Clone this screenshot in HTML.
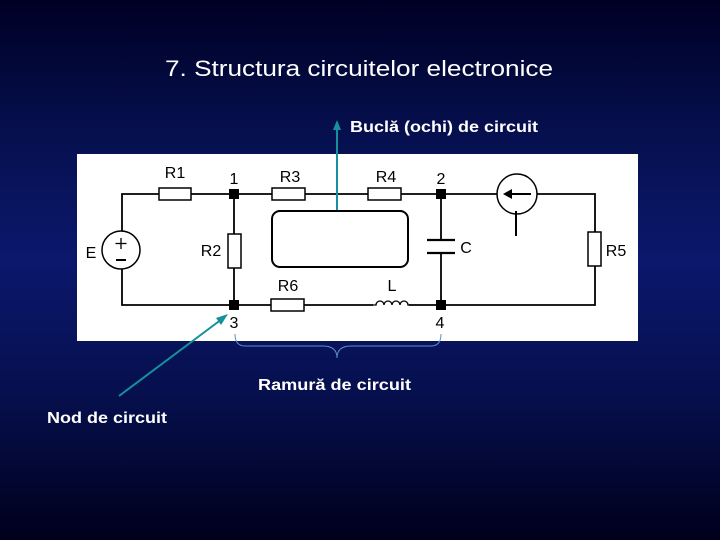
<!DOCTYPE html>
<html><head><style>
html,body{margin:0;padding:0;}
body{width:720px;height:540px;overflow:hidden;background:linear-gradient(180deg,#000024 0%,#06104f 25%,#0b186c 48%,#06104f 72%,#00001c 100%);font-family:"Liberation Sans",sans-serif;}
</style></head><body>
<svg width="720" height="540" viewBox="0 0 720 540" xmlns="http://www.w3.org/2000/svg" style="position:absolute;left:0;top:0">
<text x="165" y="76" fill="#fff" font-size="22" textLength="388" lengthAdjust="spacingAndGlyphs" font-family="Liberation Sans">7. Structura circuitelor electronice</text>
<rect x="77" y="154" width="561" height="187" fill="#fff"/>
<g stroke="#000" stroke-width="1.8" fill="none">
<polyline points="122,231 122,194 595,194 595,305 122,305 122,269"/>
<line x1="234" y1="194" x2="234" y2="305"/>
<line x1="441" y1="194" x2="441" y2="240"/>
<line x1="441" y1="253" x2="441" y2="305"/>
<line x1="427" y1="240" x2="455" y2="240" stroke-width="2.2"/>
<line x1="427" y1="253" x2="455" y2="253" stroke-width="2.2"/>
<rect x="272" y="211" width="136" height="56" rx="8" stroke-width="2"/>
</g>
<g stroke="#000" stroke-width="1.5" fill="#fff">
<rect x="159" y="188" width="32" height="12"/>
<rect x="272" y="188" width="33" height="12"/>
<rect x="368" y="188" width="33" height="12"/>
<rect x="228" y="234" width="13" height="34"/>
<rect x="271" y="299" width="33" height="12"/>
<rect x="588" y="232" width="13" height="34"/>
<circle cx="121" cy="250" r="19"/>
<circle cx="517" cy="194" r="20"/>
<rect x="373" y="299" width="36" height="10" stroke="none"/>
</g>
<g stroke="#000" stroke-width="1.3" fill="none">
<path d="M372,305 h4 a4,4 0 0 1 8,0 a4,4 0 0 1 8,0 a4,4 0 0 1 8,0 a4,4 0 0 1 8,0 h2"/>
<line x1="121" y1="238" x2="121" y2="249"/><line x1="115.5" y1="243.5" x2="126.5" y2="243.5"/>
<line x1="116" y1="260" x2="126" y2="260" stroke-width="2"/>
<line x1="506" y1="194" x2="531" y2="194" stroke-width="2"/>
<line x1="516" y1="211" x2="516" y2="236" stroke-width="2"/>
</g>
<polygon points="503,194 512,189 512,199" fill="#000"/>
<g fill="#000"><rect x="229" y="189" width="10" height="10"/><rect x="436" y="189" width="10" height="10"/><rect x="229" y="300" width="10" height="10"/><rect x="436" y="300" width="10" height="10"/></g>
<g font-family="Liberation Sans" font-size="16" fill="#000">
<text x="175" y="178" text-anchor="middle">R1</text>
<text x="234" y="184" text-anchor="middle">1</text>
<text x="290" y="182" text-anchor="middle">R3</text>
<text x="386" y="182" text-anchor="middle">R4</text>
<text x="441" y="184" text-anchor="middle">2</text>
<text x="91" y="258" text-anchor="middle">E</text>
<text x="211" y="256" text-anchor="middle">R2</text>
<text x="466" y="253" text-anchor="middle">C</text>
<text x="616" y="256" text-anchor="middle">R5</text>
<text x="288" y="291" text-anchor="middle">R6</text>
<text x="392" y="291" text-anchor="middle">L</text>
<text x="234" y="328" text-anchor="middle">3</text>
<text x="440" y="328" text-anchor="middle">4</text>
</g>
<g stroke="#16909c" stroke-width="2" fill="#16909c">
<line x1="337" y1="210" x2="337" y2="128"/>
<polygon points="337,120 333,130 341,130" stroke="none"/>
<line x1="119" y1="396" x2="222" y2="319"/>
<polygon points="228,314 216,318 221,325" stroke="none"/>
</g>
<path d="M235,334 q0,12 10,12 h78 q14,0 14,12 q0,-12 14,-12 h80 q10,0 10,-12" stroke="#5f8fc8" stroke-width="1" fill="none"/>
<g font-family="Liberation Sans" font-weight="bold" font-size="16" fill="#fff" lengthAdjust="spacingAndGlyphs">
<text x="350" y="132" textLength="188" lengthAdjust="spacingAndGlyphs">Buclă (ochi) de circuit</text>
<text x="258" y="390" textLength="153" lengthAdjust="spacingAndGlyphs">Ramură de circuit</text>
<text x="47" y="423" textLength="120" lengthAdjust="spacingAndGlyphs">Nod de circuit</text>
</g>
</svg>
</body></html>
